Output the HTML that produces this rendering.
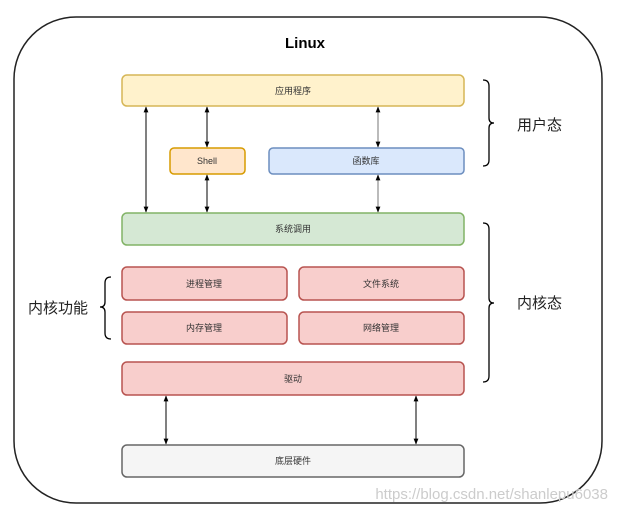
<!DOCTYPE html>
<html><head><meta charset="utf-8"><style>
body{margin:0;background:#fff;}
svg text{font-family:"Liberation Sans","Noto Sans CJK SC",sans-serif;}
</style></head><body>
<svg width="617" height="512" viewBox="0 0 617 512" xmlns="http://www.w3.org/2000/svg">
<defs><marker id="a" viewBox="0 0 10 10" refX="9" refY="5" markerWidth="6" markerHeight="6" orient="auto-start-reverse"><path d="M0,1 L10,5 L0,9 Z" fill="#000"/></marker></defs>
<rect x="14" y="17" width="588" height="486" rx="62" fill="#fff" stroke="#222" stroke-width="1.5"/>
<text x="305" y="48" font-size="15" font-weight="bold" text-anchor="middle">Linux</text>
<g stroke-width="1.5" font-size="9" text-anchor="middle" fill="#333">
<rect x="122" y="75" width="342" height="31" rx="5" fill="#fff2cc" stroke="#d6b656"/>
<rect x="170" y="148" width="75" height="26" rx="4" fill="#ffe6cc" stroke="#d79b00"/>
<rect x="269" y="148" width="195" height="26" rx="4" fill="#dae8fc" stroke="#6c8ebf"/>
<rect x="122" y="213" width="342" height="32" rx="5" fill="#d5e8d4" stroke="#82b366"/>
<rect x="122" y="267" width="165" height="33" rx="5" fill="#f8cecc" stroke="#b85450"/>
<rect x="299" y="267" width="165" height="33" rx="5" fill="#f8cecc" stroke="#b85450"/>
<rect x="122" y="312" width="165" height="32" rx="5" fill="#f8cecc" stroke="#b85450"/>
<rect x="299" y="312" width="165" height="32" rx="5" fill="#f8cecc" stroke="#b85450"/>
<rect x="122" y="362" width="342" height="33" rx="5" fill="#f8cecc" stroke="#b85450"/>
<rect x="122" y="445" width="342" height="32" rx="5" fill="#f5f5f5" stroke="#666"/>
</g>
<g font-size="9" text-anchor="middle" fill="#333">
<text x="293" y="94">应用程序</text>
<text x="207" y="164">Shell</text>
<text x="366" y="164">函数库</text>
<text x="293" y="232">系统调用</text>
<text x="204" y="287">进程管理</text>
<text x="381" y="287">文件系统</text>
<text x="204" y="331">内存管理</text>
<text x="381" y="331">网络管理</text>
<text x="293" y="382">驱动</text>
<text x="293" y="464">底层硬件</text>
</g>
<g stroke="#000" stroke-width="1" marker-start="url(#a)" marker-end="url(#a)">
<line x1="146" y1="107" x2="146" y2="212"/>
<line x1="207" y1="107" x2="207" y2="147"/>
<line x1="207" y1="175" x2="207" y2="212"/>
<line x1="378" y1="107" x2="378" y2="147" stroke="#777"/>
<line x1="378" y1="175" x2="378" y2="212" stroke="#777"/>
<line x1="166" y1="396" x2="166" y2="444"/>
<line x1="416" y1="396" x2="416" y2="444"/>
</g>
<g fill="none" stroke="#000" stroke-width="1.3">
<path d="M483,80 Q489,80 489,86 L489,118 Q489,123 494,123 Q489,123 489,128 L489,160 Q489,166 483,166"/>
<path d="M483,223 Q489,223 489,229 L489,298 Q489,303 494,303 Q489,303 489,308 L489,376 Q489,382 483,382"/>
<path d="M111,277 Q105,277 105,283 L105,302 Q105,307 100,307 Q105,307 105,312 L105,333 Q105,339 111,339"/>
</g>
<g font-size="15" fill="#222">
<text x="517" y="130">用户态</text>
<text x="517" y="308">内核态</text>
<text x="28" y="313">内核功能</text>
</g>
<text x="608" y="499" font-size="15" fill="#ccc" text-anchor="end">https://blog.csdn.net/shanlepu6038</text>
</svg>
</body></html>
